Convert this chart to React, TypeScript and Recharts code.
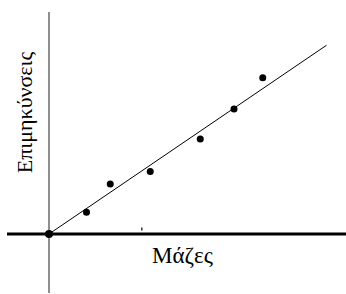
import React from "react";
import {
  ComposedChart,
  Line,
  Scatter,
  XAxis,
  YAxis,
  ReferenceLine,
} from "recharts";

// Measurements: masses (x) and elongations (y), arbitrary units
const masses = [1.5, 2.45, 4.05, 6.05, 7.4, 8.55];
const elongations = [0.87, 2.0, 2.5, 3.8, 5.0, 6.25];
const originX = [0];
const originY = [0];
const fitX = [0, 11.1];
const fitY = [0, 7.55];
const markX = [3.71];
const markY = [0.2];
const xLabel = "Μάζες";
const yLabel = "Επιμηκύνσεις";

const points = masses.map((m, i) => ({ x: m, y: elongations[i] }));
const origin = originX.map((x, i) => ({ x, y: originY[i] }));
const marks = markX.map((x, i) => ({ x, y: markY[i] }));
const fit = fitX.map((x, i) => ({ x, fy: fitY[i] }));

const W = 346;
const H = 294;
const X_DOMAIN: [number, number] = [-1.96, 11.88];
const Y_DOMAIN: [number, number] = [-2.4, 9.36];

const serif = "'Liberation Serif', 'Times New Roman', serif";

export default function App() {
  return (
    <div style={{ position: "absolute", left: 0, top: 0, width: W, height: H, background: "#fff" }}>
      <ComposedChart width={W} height={H} margin={{ top: 0, right: 0, bottom: 0, left: 0 }}>
        <XAxis type="number" dataKey="x" domain={X_DOMAIN} allowDataOverflow hide />
        <YAxis type="number" domain={Y_DOMAIN} allowDataOverflow hide />
        <ReferenceLine
          segment={[{ x: 0, y: -2.36 }, { x: 0, y: 8.88 }]}
          stroke="#6a6a6a"
          strokeWidth={1.5}
        />
        <ReferenceLine
          segment={[{ x: -1.68, y: 0 }, { x: 11.88, y: 0 }]}
          stroke="#000"
          strokeWidth={3}
        />
        <Line
          data={fit}
          dataKey="fy"
          stroke="#000"
          strokeWidth={1}
          dot={false}
          activeDot={false}
          isAnimationActive={false}
        />
        <Scatter
          data={points}
          dataKey="y"
          fill="#000"
          shape={(p: any) => <circle cx={p.cx} cy={p.cy} r={3.5} fill="#000" />}
          isAnimationActive={false}
        />
        <Scatter
          data={origin}
          dataKey="y"
          fill="#000"
          shape={(p: any) => (
            <circle cx={p.cx} cy={p.cy} r={2.5} fill="#000" stroke="#000" strokeWidth={3} />
          )}
          isAnimationActive={false}
        />
        <Scatter
          data={marks}
          dataKey="y"
          fill="#000"
          shape={(p: any) => <rect x={p.cx - 0.5} y={p.cy - 1.5} width={1.2} height={3} fill="#000" />}
          isAnimationActive={false}
        />
      </ComposedChart>
      <svg
        width={W}
        height={H}
        style={{ position: "absolute", left: 0, top: 0, pointerEvents: "none" }}
      >
        <text x={182.5} y={263} textAnchor="middle" fontFamily={serif} fontSize={23} fill="#000">
          {xLabel}
        </text>
        <text
          x={0}
          y={0}
          transform="translate(32,112.5) rotate(-90)"
          textAnchor="middle"
          fontFamily={serif}
          fontSize={22}
          fill="#000"
        >
          {yLabel}
        </text>
      </svg>
    </div>
  );
}
